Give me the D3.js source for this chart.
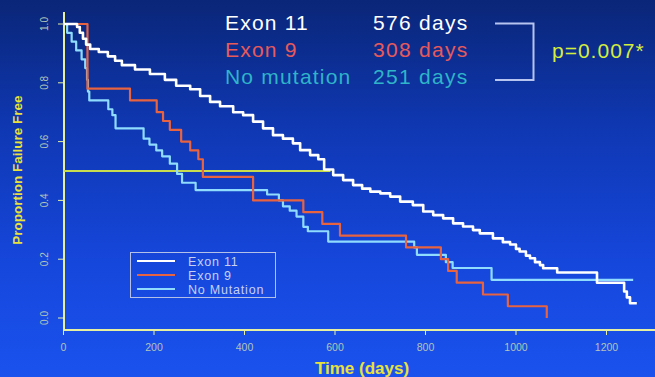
<!DOCTYPE html>
<html>
<head>
<meta charset="utf-8">
<script src="https://cdn.jsdelivr.net/npm/d3@7"></script>
<style>
  body { margin: 0; padding: 0; overflow: hidden; }
  svg text { font-family: "Liberation Sans", Arial, sans-serif; }
</style>
</head>
<body>
<div class="canva"></div>
<script>
// Kaplan-Meier steps: [day, proportion after the step]
var exon11 = [
  [0, 1.0], [30, 0.99], [36, 0.97], [43, 0.95], [50, 0.93], [59, 0.915], [78, 0.905],
  [98, 0.89], [114, 0.875], [129, 0.86], [158, 0.845], [191, 0.83], [224, 0.81],
  [249, 0.79], [280, 0.778], [302, 0.755], [324, 0.735], [346, 0.72], [375, 0.70],
  [397, 0.69], [419, 0.668], [441, 0.645], [463, 0.622], [485, 0.61], [507, 0.594],
  [523, 0.571], [545, 0.554], [563, 0.54], [576, 0.505], [596, 0.486], [618, 0.469],
  [640, 0.452], [660, 0.44], [678, 0.43], [700, 0.424], [722, 0.413], [744, 0.396],
  [772, 0.384], [795, 0.362], [817, 0.35], [839, 0.339], [861, 0.322], [883, 0.311],
  [905, 0.299], [920, 0.288], [949, 0.271], [971, 0.258], [987, 0.25], [1000, 0.235],
  [1008, 0.226], [1022, 0.212], [1031, 0.203], [1042, 0.19], [1053, 0.18], [1060, 0.169],
  [1091, 0.155], [1179, 0.12], [1239, 0.09], [1245, 0.07], [1252, 0.05], [1267, 0.05]
];
var exon9 = [
  [0, 1.0], [53, 0.78], [147, 0.74], [206, 0.70], [220, 0.67], [235, 0.64], [260, 0.60],
  [280, 0.57], [298, 0.54], [308, 0.48], [419, 0.40], [530, 0.36], [572, 0.32],
  [611, 0.28], [757, 0.24], [834, 0.20], [850, 0.16], [869, 0.12], [927, 0.08],
  [982, 0.04], [1068, 0.0]
];
var noMutation = [
  [0, 1.0], [8, 0.97], [18, 0.94], [28, 0.91], [40, 0.88], [48, 0.85], [52, 0.81],
  [54, 0.77], [57, 0.74], [99, 0.71], [108, 0.69], [115, 0.645], [177, 0.61],
  [190, 0.59], [205, 0.57], [218, 0.55], [235, 0.525], [251, 0.49], [262, 0.46],
  [292, 0.435], [450, 0.42], [476, 0.40], [485, 0.38], [500, 0.365], [515, 0.345],
  [530, 0.31], [540, 0.295], [585, 0.26], [775, 0.24], [781, 0.215], [845, 0.19],
  [860, 0.17], [946, 0.13], [1259, 0.13]
];

var xTicks = [0, 200, 400, 600, 800, 1000, 1200];
var yTicks = [0.0, 0.2, 0.4, 0.6, 0.8, 1.0];

var seriesNames = ["Exon 11", "Exon 9", "No Mutation"];
var seriesColors = ["#ffffff", "#e8633f", "#8fdcff"];

var headerNames = ["Exon 11", "Exon 9", "No mutation"];
var headerMedians = ["576 days", "308 days", "251 days"];
var headerColors = ["#ffffff", "#e85a5a", "#2fb4c8"];
var medianLevel = 0.5;
var medianEnd = 590;
var pText = "p=0.007*";

const canvas = d3.select(".canva");
const svg = canvas.append("svg")
  .attr("width", 655)
  .attr("height", 377);

// background
const defs = svg.append("defs");
const grad = defs.append("linearGradient").attr("id", "bg")
  .attr("x1", 0).attr("y1", 0).attr("x2", 0).attr("y2", 1);
grad.append("stop").attr("offset", "0%").attr("stop-color", "#0a2678");
grad.append("stop").attr("offset", "35%").attr("stop-color", "#0f38b4");
grad.append("stop").attr("offset", "70%").attr("stop-color", "#1647dc");
grad.append("stop").attr("offset", "100%").attr("stop-color", "#1a52ee");
svg.append("rect").attr("width", 655).attr("height", 377).attr("fill", "url(#bg)");

const x = d3.scaleLinear().domain([0, 1200]).range([63.5, 606.5]);
const y = d3.scaleLinear().domain([0, 1]).range([318, 24]);

const axisColor = "#e6f0a0";
const tickTextColor = "#b4c4b8";

// axis lines (offset style)
svg.append("line").attr("x1", 64).attr("x2", 64).attr("y1", 12).attr("y2", 330)
  .attr("stroke", axisColor).attr("stroke-width", 2);
svg.append("line").attr("x1", 63).attr("x2", 655).attr("y1", 330).attr("y2", 330)
  .attr("stroke", axisColor).attr("stroke-width", 2);

// y ticks
const yAxis = svg.append("g");
yAxis.selectAll("line").data(yTicks).enter().append("line")
  .attr("x1", 58).attr("x2", 64)
  .attr("y1", d => y(d)).attr("y2", d => y(d))
  .attr("stroke", axisColor).attr("stroke-width", 1);
yAxis.selectAll("text").data(yTicks).enter().append("text")
  .attr("transform", d => "translate(48," + y(d) + ") rotate(-90)")
  .attr("text-anchor", "middle")
  .attr("font-size", 10)
  .attr("fill", tickTextColor)
  .text(d => d.toFixed(1));

// x ticks
const xAxis = svg.append("g");
xAxis.selectAll("line").data(xTicks).enter().append("line")
  .attr("x1", d => x(d)).attr("x2", d => x(d))
  .attr("y1", 330).attr("y2", 335)
  .attr("stroke", axisColor).attr("stroke-width", 1);
xAxis.selectAll("text").data(xTicks).enter().append("text")
  .attr("x", d => x(d)).attr("y", 351)
  .attr("text-anchor", "middle")
  .attr("font-size", 10.5)
  .attr("fill", tickTextColor)
  .text(d => d);

// axis titles
svg.append("text")
  .attr("transform", "translate(22,170) rotate(-90)")
  .attr("text-anchor", "middle")
  .attr("font-size", 13.5).attr("font-weight", "bold")
  .attr("fill", "#e8e23a")
  .text("Proportion Failure Free");
svg.append("text")
  .attr("x", 362).attr("y", 374)
  .attr("text-anchor", "middle")
  .attr("font-size", 17).attr("font-weight", "bold")
  .attr("fill", "#e8e23a")
  .text("Time (days)");

// median line
svg.append("line")
  .attr("x1", x(0)).attr("x2", x(medianEnd))
  .attr("y1", y(medianLevel)).attr("y2", y(medianLevel))
  .attr("stroke", "#c8dc50").attr("stroke-width", 2);

// curves
const line = d3.line()
  .x(d => x(d[0])).y(d => y(d[1]))
  .curve(d3.curveStepAfter);
const curves = [noMutation, exon9, exon11];
const curveColors = [seriesColors[2], seriesColors[1], seriesColors[0]];
svg.selectAll("path.km").data(curves).enter().append("path")
  .attr("class", "km")
  .attr("d", d => line(d))
  .attr("fill", "none")
  .attr("stroke", (d, i) => curveColors[i])
  .attr("stroke-width", (d, i) => i == 2 ? 2.6 : 2.2)
  .attr("stroke-linejoin", "round");

// legend box
const lg = svg.append("g");
lg.append("rect").attr("x", 130.5).attr("y", 252.5).attr("width", 145).attr("height", 45)
  .attr("fill", "none").attr("stroke", "#b4c0e8").attr("stroke-width", 1);
lg.selectAll("line").data(seriesNames).enter().append("line")
  .attr("x1", 137).attr("x2", 175)
  .attr("y1", (d, i) => 261 + i * 14).attr("y2", (d, i) => 261 + i * 14)
  .attr("stroke", (d, i) => seriesColors[i]).attr("stroke-width", 2.2);
lg.selectAll("text").data(seriesNames).enter().append("text")
  .attr("x", 188).attr("y", (d, i) => 265.5 + i * 14)
  .attr("font-size", 12.5)
  .attr("letter-spacing", 0.8)
  .attr("fill", "#c8d0f4")
  .text(d => d);

// header text
const hd = svg.append("g");
hd.selectAll("text.name").data(headerNames).enter().append("text")
  .attr("class", "name")
  .attr("x", 225).attr("y", (d, i) => 30 + i * 27)
  .attr("font-size", 21)
  .attr("letter-spacing", 1.2)
  .attr("fill", (d, i) => headerColors[i])
  .text(d => d);
hd.selectAll("text.med").data(headerMedians).enter().append("text")
  .attr("class", "med")
  .attr("x", 373).attr("y", (d, i) => 30 + i * 27)
  .attr("font-size", 21)
  .attr("letter-spacing", 1.3)
  .attr("fill", (d, i) => headerColors[i])
  .text(d => d);

// bracket
svg.append("path")
  .attr("d", "M495,23.5 H533.5 V80 H495")
  .attr("fill", "none").attr("stroke", "#b8c4f0").attr("stroke-width", 2);
svg.append("text")
  .attr("x", 552).attr("y", 58)
  .attr("font-size", 21)
  .attr("letter-spacing", 1)
  .attr("fill", "#d4ee3c")
  .text(pText);
</script>
</body>
</html>
